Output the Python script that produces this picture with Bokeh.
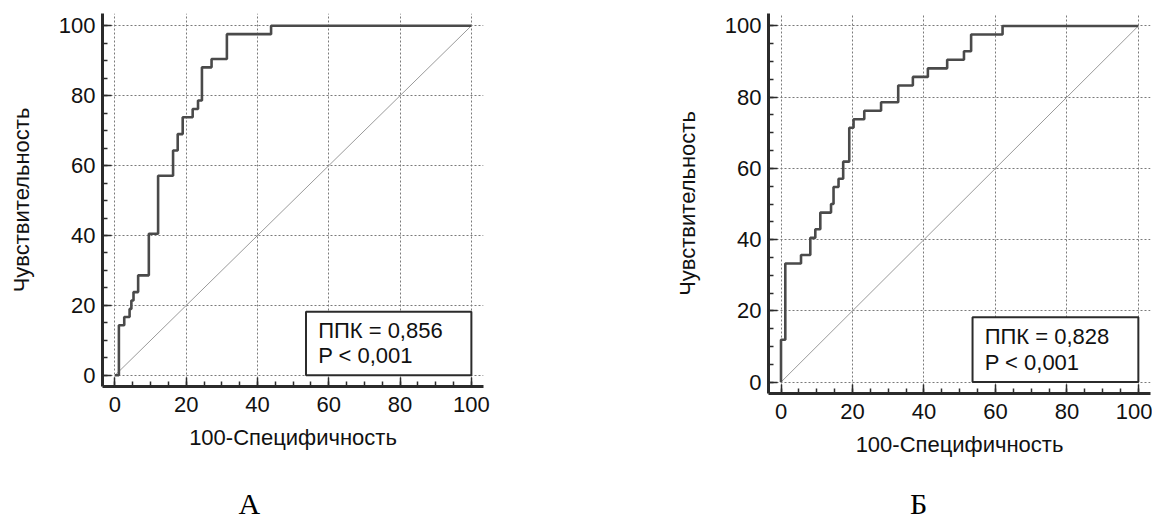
from bokeh.plotting import figure
from bokeh.models import (SingleIntervalTicker, BoxAnnotation, Label, Range1d,
                          LinearAxis, FixedTicker, CustomJSTickFormatter)
from bokeh.layouts import row, column
from bokeh.embed import file_html
from bokeh.resources import INLINE

# ---- data ----
fpr_a = [0, 1.1, 2.6, 4.1, 4.6, 5.2, 6.5, 9.5, 12.1, 16.3, 17.6, 19.0, 21.8,
         23.3, 24.4, 27.1, 31.4, 43.8, 100]
tpr_a = [0, 14.3, 16.7, 19.0, 21.4, 23.8, 28.6, 40.5, 57.1, 64.3, 69.0, 73.8,
         76.2, 78.6, 88.1, 90.5, 97.6, 100, 100]

fpr_b = [0, 0, 1.2, 5.6, 8.2, 9.6, 11.0, 14.0, 14.7, 16.1, 17.4, 19.1, 20.3,
         23.3, 28.0, 32.8, 36.9, 41.1, 46.5, 51.2, 53.2, 62.0, 100]
tpr_b = [0, 11.9, 33.3, 35.7, 40.5, 42.9, 47.6, 50.0, 54.8, 57.1, 61.9, 71.4,
         73.8, 76.2, 78.6, 83.3, 85.7, 88.1, 90.5, 92.9, 97.6, 100, 100]

diag = [0, 100]
auc_labels = ["ППК = 0,856", "ППК = 0,828"]
p_labels = ["P < 0,001", "P < 0,001"]
panel_letters = ["А", "Б"]
x_title = "100-Специфичность"
y_title = "Чувствительность"

FONT = "Liberation Sans"
DARK = "#2b2b2b"
FS = "22px"


def make_fig(fpr, tpr, auc_txt, p_txt, letter, width, mb_left, mb_right,
             mb_bottom, letter_x, letter_standoff):
    p = figure(width=width, height=522, output_backend="svg",
               toolbar_location=None, x_range=Range1d(-3.5, 103.4),
               y_range=Range1d(-3.2, 103.5),
               min_border_left=mb_left, min_border_right=mb_right,
               min_border_top=13, min_border_bottom=mb_bottom)
    p.outline_line_color = None
    p.background_fill_color = "white"

    for ax in (p.xaxis[0], p.yaxis[0]):
        ax.ticker = SingleIntervalTicker(interval=20, num_minor_ticks=4)
        ax.axis_line_width = 3
        ax.axis_line_color = DARK
        ax.major_tick_in = 9
        ax.major_tick_out = 0
        ax.minor_tick_in = 5
        ax.minor_tick_out = 0
        ax.major_tick_line_color = DARK
        ax.minor_tick_line_color = DARK
        ax.major_tick_line_width = 1.5
        ax.minor_tick_line_width = 1.5
        ax.major_label_text_font = FONT
        ax.major_label_text_font_size = FS
        ax.major_label_text_color = "#111111"
        ax.axis_label_text_font = FONT
        ax.axis_label_text_font_size = FS
        ax.axis_label_text_font_style = "normal"
        ax.axis_label_text_color = "#111111"
    p.xaxis[0].axis_label = x_title
    p.yaxis[0].axis_label = y_title
    p.xaxis[0].major_label_standoff = 10
    p.yaxis[0].major_label_standoff = 7
    p.xaxis[0].axis_label_standoff = 10
    p.yaxis[0].axis_label_standoff = 22

    p.xgrid.grid_line_color = "#7a7a7a"
    p.ygrid.grid_line_color = "#7a7a7a"
    p.xgrid.grid_line_dash = "2 2"
    p.ygrid.grid_line_dash = "2 2"
    p.xgrid.grid_line_width = 1
    p.ygrid.grid_line_width = 1

    p.line(diag, diag, line_color="#9a9a9a", line_width=1)
    p.step(fpr, tpr, mode="after", line_color="#4a4a4a", line_width=2.6)

    box = BoxAnnotation(left=53.6, right=100, bottom=0, top=18.2,
                        fill_color="white", fill_alpha=1.0,
                        line_color=DARK, line_width=2, line_alpha=1.0)
    p.add_layout(box)
    for txt, yy in ((auc_txt, 12.8), (p_txt, 5.6)):
        p.add_layout(Label(x=57.0, y=yy, text=txt, text_font=FONT,
                           text_font_size=FS, text_baseline="middle",
                           text_color="#111111"))

    # panel letter under the chart, drawn as the single label of a bare axis
    la = LinearAxis(ticker=FixedTicker(ticks=[letter_x]),
                    formatter=CustomJSTickFormatter(code="return '%s'" % letter))
    la.axis_line_color = None
    la.major_tick_line_color = None
    la.minor_tick_line_color = None
    la.major_tick_in = 0
    la.major_tick_out = 0
    la.minor_tick_in = 0
    la.minor_tick_out = 0
    la.major_label_standoff = letter_standoff
    la.major_label_text_font = "Liberation Serif"
    la.major_label_text_font_size = "30px"
    la.major_label_text_color = "#000000"
    p.add_layout(la, "below")
    return p


pa = make_fig(fpr_a, tpr_a, auc_labels[0], p_labels[0], panel_letters[0],
              width=500, mb_left=102, mb_right=17, mb_bottom=135,
              letter_x=37.7, letter_standoff=34)
pb = make_fig(fpr_b, tpr_b, auc_labels[1], p_labels[1], panel_letters[1],
              width=652, mb_left=268, mb_right=2, mb_bottom=129,
              letter_x=38.5, letter_standoff=27)

layout = row(column(pa), column(pb))
open("out.html", "w").write(file_html(layout, INLINE))
